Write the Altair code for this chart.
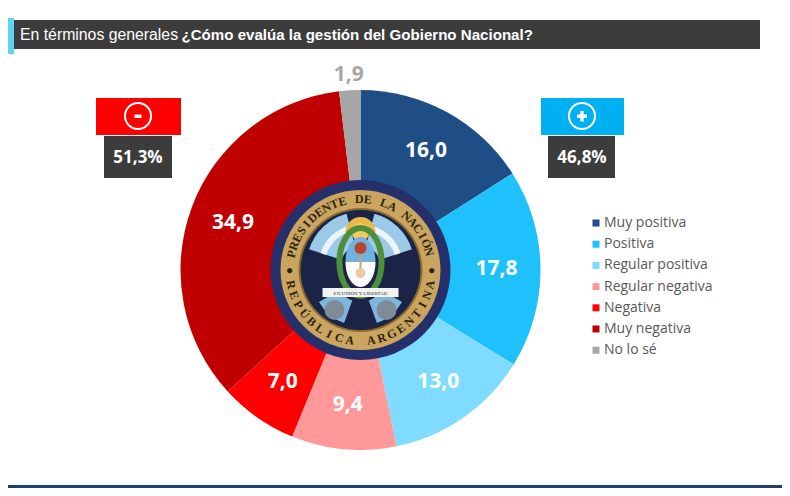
import math
import altair as alt
import pandas as pd

# ---------------- data ----------------
categories = ["Muy positiva", "Positiva", "Regular positiva", "Regular negativa",
              "Negativa", "Muy negativa", "No lo sé"]
values = [16.0, 17.8, 13.0, 9.4, 7.0, 34.9, 1.9]
colors = ["#1F4E87", "#1EC1FC", "#7FDBFF", "#FF9999", "#FF0000", "#C00000", "#A6A6A6"]

title_regular = "En términos generales"
title_bold = "¿Cómo evalúa la gestión del Gobierno Nacional?"
neg_total = "51,3%"
pos_total = "46,8%"
seal_top = "PRESIDENTE DE LA NACIÓN"
seal_bottom = "REPÚBLICA ARGENTINA"
motto = "EN UNIÓN Y LIBERTAD"

# ---------------- layout constants ----------------
CX, CY = 352.5, 262
W, H = 774, 480

df = pd.DataFrame({"cat": categories, "value": values, "idx": list(range(len(values)))})
one = pd.DataFrame({"a": [0]})


def rect(x, x2, y, y2, color):
    return alt.Chart(one).mark_rect(color=color).encode(
        x=alt.value(x), x2=alt.value(x2), y=alt.value(y), y2=alt.value(y2))


def dot(x, y, r, color, shape="circle", filled=True, stroke=None, sw=0):
    kw = dict(shape=shape, size=(2 * r) ** 2, opacity=1)
    if filled:
        kw.update(filled=True, color=color, strokeWidth=0)
    else:
        kw.update(filled=False, stroke=stroke, strokeWidth=sw)
    return alt.Chart(one).mark_point(**kw).encode(x=alt.value(x), y=alt.value(y))


def ring(cx, cy, t0, t1, r0, r1, color):
    return alt.Chart(one).mark_arc(theta=math.radians(t0), theta2=math.radians(t1),
                                   innerRadius=r0, outerRadius=r1, color=color).encode(
        x=alt.value(cx), y=alt.value(cy))


def txt(s, x, y, size, color, weight="normal", align="center", font="Open Sans"):
    return alt.Chart(one).mark_text(text=s, fontSize=size, color=color, fontWeight=weight,
                                    align=align, baseline="middle", font=font).encode(
        x=alt.value(x), y=alt.value(y))


# ---------------- pie ----------------
base = alt.Chart(df)
pie = base.mark_arc(outerRadius=180, innerRadius=0).encode(
    theta=alt.Theta("value:Q", stack=True),
    color=alt.Color("cat:N", sort=categories,
                    scale=alt.Scale(domain=categories, range=colors),
                    legend=alt.Legend(title=None, orient="none", legendX=581, legendY=208,
                                      symbolType="square", symbolSize=49, symbolStrokeWidth=0,
                                      labelFontSize=14, labelColor="#595959",
                                      labelFont="Open Sans", rowPadding=7.2, labelOffset=1,
                                      padding=0)),
    order=alt.Order("idx:Q"),
    x=alt.value(CX), y=alt.value(CY))

lab_expr = "replace(format(datum.value, '.1f'), '.', ',')"
labels_in = base.transform_calculate(
    lab=f"datum.cat == 'No lo sé' ? '' : {lab_expr}"
).mark_text(radius=136, fontSize=21, fontWeight="bold", font="Open Sans",
            color="white", baseline="middle").encode(
    theta=alt.Theta("value:Q", stack=True), order=alt.Order("idx:Q"),
    text="lab:N", x=alt.value(CX), y=alt.value(CY))
labels_out = base.transform_calculate(
    lab=f"datum.cat == 'No lo sé' ? {lab_expr} : ''"
).mark_text(radius=195, fontSize=21, fontWeight="bold", font="Open Sans",
            color="#A6A6A6", baseline="middle").encode(
    theta=alt.Theta("value:Q", stack=True), order=alt.Order("idx:Q"),
    text="lab:N", x=alt.value(CX), y=alt.value(CY))

# ---------------- seal (decoration) ----------------
seal = [
    dot(CX, CY, 90, "#25306A"),
    dot(CX, CY, 80, "#C9A55F"),
    dot(CX, CY, 62, "#8B6A2E"),
    dot(CX, CY, 60, "#1B2346"),
    # flag fans
    ring(CX, CY - 4, 288, 345, 20, 54, "#9CC9E8"),
    ring(CX, CY - 4, 15, 72, 20, 54, "#9CC9E8"),
    ring(CX, CY - 4, 288, 345, 36, 42, "#EAF4FB"),
    ring(CX, CY - 4, 15, 72, 36, 42, "#EAF4FB"),
    ring(CX, CY + 8, 200, 240, 24, 48, "#7FB5DA"),
    ring(CX, CY + 8, 120, 160, 24, 48, "#7FB5DA"),
    # sun
    ring(CX, CY - 38, 270, 450, 8, 15, "#E8B84A"),
    dot(CX, CY - 38, 9, "#F4C95A"),
    # laurel
    dot(CX, CY - 8, 34, None, shape="M -0.62 0 A 0.62 1 0 0 1 0.62 0 A 0.62 1 0 0 1 -0.62 0 Z",
        filled=False, stroke="#4E8F3C", sw=6),
    # shield
    dot(CX, CY - 8, 25, "#6FB2E0", shape="M -0.6 0 A 0.6 1 0 0 1 0.6 0 Z"),
    dot(CX, CY - 8, 25, "#FFFFFF", shape="M -0.6 0 A 0.6 1 0 0 0 0.6 0 Z"),
    rect(CX - 1, CX + 1, CY - 22, CY + 8, "#C9A55F"),
    dot(CX, CY - 22, 6, "#B5452F"),
    dot(CX, CY + 3, 5, "#E9C9A8"),
    # ribbon
    rect(CX - 38, CX + 38, CY + 18, CY + 27, "#F2F2F2"),
    txt(motto, CX, CY + 22.5, 5, "#333333", font="Liberation Serif"),
    # cannon balls
    dot(CX - 26, CY + 40, 10, "#7E8C9A"),
    dot(CX + 26, CY + 40, 10, "#7E8C9A"),
]


def ring_letters(text, t0, t1, bottom):
    rows = []
    n = len(text)
    for i, ch in enumerate(text):
        t = t0 + (t1 - t0) * i / (n - 1)
        a = (t - 180) % 360 if bottom else t % 360
        rows.append({"ch": ch, "t": math.radians(t % 360), "a": a})
    return rows


letters = ring_letters(seal_top, -77, 75, False) + ring_letters(seal_bottom, 258, 102, True)
letters += [{"ch": "●", "t": math.radians(270), "a": 0.0}, {"ch": "●", "t": math.radians(90), "a": 0.0}]
seal_text = alt.Chart(pd.DataFrame(letters)).mark_text(
    radius=71, fontSize=12, font="Liberation Serif", color="#2E2210", baseline="middle",
    fontWeight="bold").encode(
    theta=alt.Theta("t:Q", scale=None), angle=alt.Angle("a:Q", scale=None),
    text="ch:N", x=alt.value(CX), y=alt.value(CY))

# ---------------- title bar ----------------
title = [
    rect(4, 752, 12, 41, "#3C3C3C"),
    rect(0, 6, 10, 46, "#5ED3F3"),
    txt(title_regular, 12, 26.5, 15.8, "#FFFFFF", align="left", font="Liberation Sans"),
    txt(title_bold, 173.5, 26.5, 15.1, "#FFFFFF", weight="bold", align="left", font="Liberation Sans"),
]

# ---------------- +/- boxes ----------------
boxes = [
    rect(88, 173, 90, 127, "#FF0000"),
    rect(96, 164, 128, 170, "#3C3C3C"),
    dot(130, 108, 13, None, filled=False, stroke="#FFFFFF", sw=2),
    rect(126.5, 133.5, 106.5, 110, "#FFFFFF"),
    txt(neg_total, 130, 149.5, 17, "#FFFFFF", weight="bold"),
    rect(533, 616, 90, 127, "#00B0F0"),
    rect(540, 607, 128, 170, "#3C3C3C"),
    dot(574, 108, 13, None, filled=False, stroke="#FFFFFF", sw=2),
    rect(569, 579, 106.5, 110, "#FFFFFF"),
    rect(572.3, 575.7, 103, 113.5, "#FFFFFF"),
    txt(pos_total, 574, 149.5, 17, "#FFFFFF", weight="bold"),
]

bottom = [rect(0, W, 477, 480, "#1F3F73")]

chart = alt.layer(
    *title, pie, labels_in, labels_out, *seal, seal_text, *boxes, *bottom
).resolve_scale(theta="independent").properties(
    width=W, height=H, padding=0, autosize=alt.AutoSizeParams(type="none")
).configure_view(stroke=None)

chart.save("out.html", embed_options={"renderer": "svg", "actions": False})
